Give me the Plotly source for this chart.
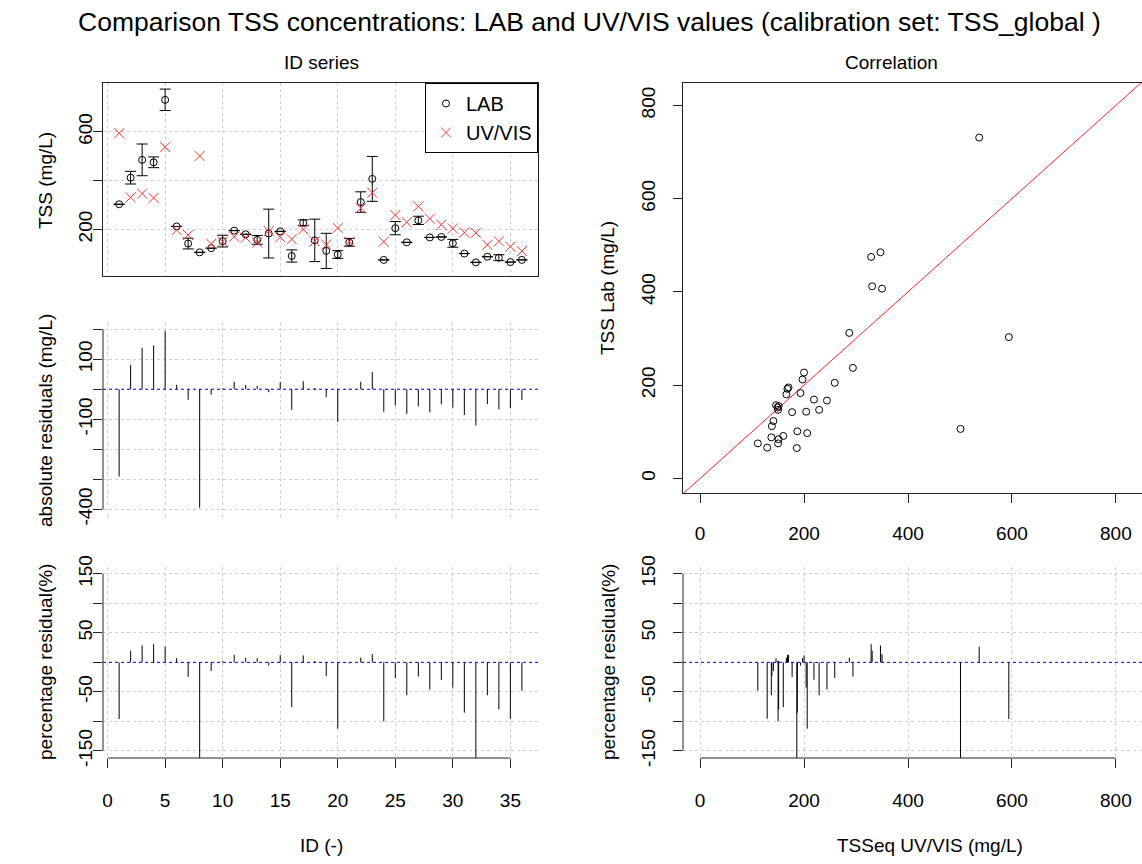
import plotly.graph_objects as go

# ---- data: TSS per sample (mg/L) ----
sample_id = list(range(1, 37))
tss_lab = [303, 412, 485, 475, 731, 212, 142, 106, 123, 152, 195, 180, 157, 183, 192, 91, 227, 155,
           112, 97, 147, 312, 407, 75, 205, 147, 237, 167, 169, 143, 101, 65, 88, 84, 66, 75]
tss_uvvis = [594, 331, 347, 329, 537, 197, 177, 501, 141, 149, 170, 166, 146, 193, 168, 160, 200, 151,
             138, 206, 150, 287, 350, 150, 259, 229, 294, 244, 219, 204, 187, 186, 137, 151, 129, 111]
# lab replicate standard deviation (None = single measurement)
tss_lab_sd = [None, 26, 65, 22, 44, None, 22, None, None, 24, None, None, 18, 100, None, 25, 12, 87,
              72, 16, 16, 42, 92, None, 27, None, 17, None, None, 16, None, None, None, 12, None, None]

abs_res = [l - u for l, u in zip(tss_lab, tss_uvvis)]
pct_res = [(l - u) / l * 100 for l, u in zip(tss_lab, tss_uvvis)]

id_ticks = [0, 5, 10, 15, 20, 25, 30, 35]
conc_ticks = [0, 200, 400, 600, 800]
abs_ticks = [-400, -300, -200, -100, 0, 100, 200]
abs_labels = ["-400", "", "", "-100", "", "100", ""]
pct_ticks = [-150, -100, -50, 0, 50, 100, 150]
pct_labels = ["-150", "", "-50", "", "50", "", "150"]

W, H = 1142, 864
FONT = "Liberation Sans, Arial, sans-serif"
GRID = "#cfcfcf"
AX = "#222222"


def xdom(p0, p1):
    return [p0 / W, min(p1 / W, 1.0)]


def ydom(top, bottom):
    return [1 - bottom / H, 1 - top / H]


def stems(xs, ys):
    sx, sy = [], []
    for x, y in zip(xs, ys):
        sx += [x, x, None]
        sy += [0, y, None]
    return sx, sy


fig = go.Figure()

# --- ID series: concentrations ---
fig.add_trace(go.Scatter(
    x=sample_id, y=tss_lab, mode="markers", name="LAB",
    marker=dict(symbol="circle-open", size=7, color="black", line=dict(width=1, color="black")),
    error_y=dict(type="data", array=tss_lab_sd, visible=True, color="black", thickness=1, width=5.5),
    xaxis="x", yaxis="y"))
fig.add_trace(go.Scatter(
    x=sample_id, y=tss_uvvis, mode="markers", name="UV/VIS",
    marker=dict(symbol="x-thin-open", size=10, color="#ff3030", line=dict(width=1, color="#ff3030")),
    xaxis="x", yaxis="y"))

# --- ID series: absolute residuals ---
sx, sy = stems(sample_id, abs_res)
fig.add_trace(go.Scatter(x=sx, y=sy, mode="lines", line=dict(color="black", width=1),
                         showlegend=False, xaxis="x2", yaxis="y2", hoverinfo="skip"))

# --- ID series: percentage residuals ---
sx, sy = stems(sample_id, pct_res)
fig.add_trace(go.Scatter(x=sx, y=sy, mode="lines", line=dict(color="black", width=1),
                         showlegend=False, xaxis="x3", yaxis="y3", hoverinfo="skip"))

# --- Correlation: lab vs uv/vis with 1:1 line ---
fig.add_trace(go.Scatter(x=[-100, 1000], y=[-100, 1000], mode="lines",
                         line=dict(color="#ff2020", width=1), showlegend=False,
                         xaxis="x4", yaxis="y4", hoverinfo="skip"))
fig.add_trace(go.Scatter(
    x=tss_uvvis, y=tss_lab, mode="markers", showlegend=False,
    marker=dict(symbol="circle-open", size=7, color="black", line=dict(width=1, color="black")),
    xaxis="x4", yaxis="y4"))

# --- Correlation: percentage residuals vs uv/vis ---
sx, sy = stems(tss_uvvis, pct_res)
fig.add_trace(go.Scatter(x=sx, y=sy, mode="lines", line=dict(color="black", width=1),
                         showlegend=False, xaxis="x5", yaxis="y5", hoverinfo="skip"))

tickfont = dict(family=FONT, size=19, color="black")
grid_kw = dict(showgrid=True, gridcolor=GRID, griddash="dot", gridwidth=1)
common = dict(automargin=False, zeroline=False, tickcolor=AX, tickfont=tickfont)

LX = xdom(103, 538)
RX = xdom(683, 1148)
id_range = [-0.4, 37.4]
uv_range = [-33, 850.3]
LEFT_STANDOFF = -7
RIGHT_STANDOFF = 10
BOTTOM_STANDOFF = 16
CORR_STANDOFF = 14

layout = dict(
    template="none",
    width=W, height=H, autosize=False,
    margin=dict(l=0, r=0, t=0, b=0, pad=0, autoexpand=False),
    plot_bgcolor="white", paper_bgcolor="white",
    font=dict(family=FONT, size=19, color="black"),
    showlegend=True,
    legend=dict(x=538 / W, xanchor="right", y=1 - 83 / H, yanchor="top",
                bordercolor="black", borderwidth=1, bgcolor="white",
                font=dict(family=FONT, size=20), tracegroupgap=0),
    # top-left
    xaxis=dict(domain=LX, range=id_range, tickvals=id_ticks, showticklabels=False, ticks="",
               showline=True, mirror=True, linecolor=AX, linewidth=1,
               anchor="y", **grid_kw, **common),
    yaxis=dict(domain=ydom(83, 276), range=[9, 800], tickvals=[200, 400, 600],
               ticktext=["200", "", "600"], ticks="outside", ticklen=9,
               tickangle=-90, ticklabelstandoff=LEFT_STANDOFF, showline=True, mirror=True,
               linecolor=AX, linewidth=1, anchor="x", **grid_kw, **common),
    # middle-left
    xaxis2=dict(domain=LX, range=id_range, tickvals=id_ticks, showticklabels=False, ticks="",
                showline=False, anchor="y2", layer="above traces", **grid_kw, **common),
    yaxis2=dict(domain=ydom(322, 516.5), range=[-424, 224], tickvals=abs_ticks, ticktext=abs_labels,
                ticks="outside", ticklen=9, tickangle=-90, ticklabelstandoff=LEFT_STANDOFF,
                showline=False, anchor="x2", layer="above traces", **grid_kw, **common),
    # bottom-left
    xaxis3=dict(domain=LX, range=id_range, tickvals=id_ticks, ticks="outside", ticklen=9,
                showline=False, anchor="y3", ticklabelstandoff=BOTTOM_STANDOFF,
                layer="above traces", **grid_kw, **common),
    yaxis3=dict(domain=ydom(566.7, 758), range=[-162, 162], tickvals=pct_ticks, ticktext=pct_labels,
                ticks="outside", ticklen=9, tickangle=-90, ticklabelstandoff=LEFT_STANDOFF,
                showline=False, anchor="x3", layer="above traces", **grid_kw, **common),
    # correlation
    xaxis4=dict(domain=RX, range=uv_range, tickvals=conc_ticks, ticks="outside", ticklen=9,
                showline=True, mirror=True, linecolor=AX, ticklabelstandoff=CORR_STANDOFF,
                linewidth=1, showgrid=False, anchor="y4", **common),
    yaxis4=dict(domain=ydom(83, 493.3), range=[-32, 848], tickvals=conc_ticks, ticks="outside",
                ticklen=9, tickangle=-90, showline=True, ticklabelstandoff=RIGHT_STANDOFF,
                linecolor=AX, linewidth=1, showgrid=False, anchor="x4", **common),
    # bottom-right
    xaxis5=dict(domain=RX, range=uv_range, tickvals=conc_ticks, ticks="outside", ticklen=9,
                showline=False, anchor="y5", ticklabelstandoff=BOTTOM_STANDOFF,
                layer="above traces", **grid_kw, **common),
    yaxis5=dict(domain=ydom(566.7, 758), range=[-162, 162], tickvals=pct_ticks, ticktext=pct_labels,
                ticks="outside", ticklen=9, tickangle=-90, ticklabelstandoff=RIGHT_STANDOFF,
                showline=False, anchor="x5", layer="above traces", **grid_kw, **common),
)
fig.update_layout(**layout)

# axis lines drawn only over the tick span, plus blue zero reference lines
shapes = []
for xa, ya, y0, y1 in [("x2", "y2", -400, 200), ("x3", "y3", -150, 150), ("x5", "y5", -150, 150)]:
    shapes.append(dict(type="line", xref=f"{xa} domain", yref=ya, x0=0, x1=0, y0=y0, y1=y1,
                       line=dict(color=AX, width=1)))
for xa, ya, x0, x1 in [("x3", "y3", 0, 35), ("x5", "y5", 0, 800)]:
    shapes.append(dict(type="line", xref=xa, yref=f"{ya} domain", x0=x0, x1=x1, y0=0, y1=0,
                       line=dict(color=AX, width=1)))
for xa, ya in [("x2", "y2"), ("x3", "y3"), ("x5", "y5")]:
    shapes.append(dict(type="line", xref=f"{xa} domain", yref=ya, x0=0, x1=1, y0=0, y1=0,
                       line=dict(color="blue", width=1, dash="dot"), layer="above"))
fig.update_layout(shapes=shapes)


def ann(text, px, py, size=19, angle=0):
    return dict(text=text, x=px / W, y=1 - py / H, xref="paper", yref="paper",
                showarrow=False, textangle=angle, xanchor="center", yanchor="middle",
                font=dict(family=FONT, size=size, color="black"))


fig.update_layout(annotations=[
    ann("Comparison TSS concentrations: LAB and UV/VIS values (calibration set: TSS_global )", 589, 22, 26.5),
    ann("ID series", 321, 63),
    ann("Correlation", 891, 63),
    ann("TSS (mg/L)", 45, 180, angle=-90),
    ann("absolute residuals (mg/L)", 45, 420, angle=-90),
    ann("percentage residual(%)", 45, 662, angle=-90),
    ann("ID (-)", 321, 845),
    ann("TSS Lab (mg/L)", 608, 288, angle=-90),
    ann("percentage residual(%)", 608, 662, angle=-90),
    ann("TSSeq UV/VIS (mg/L)", 930, 845),
])

# the page itself gets no body margin so the figure fills the window exactly
fig.write_html("out.html",
               post_script="document.body.style.margin='0';document.body.style.overflow='hidden';")
